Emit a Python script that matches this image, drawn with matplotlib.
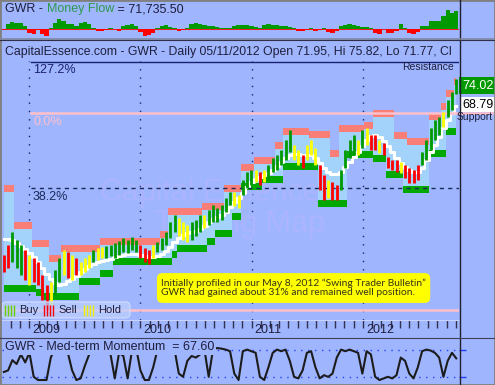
import numpy as np
import pandas as pd
import matplotlib
matplotlib.use("Agg")
import matplotlib.pyplot as plt
from matplotlib.patches import FancyBboxPatch, Rectangle
from matplotlib.lines import Line2D
from matplotlib.collections import LineCollection

plt.rcParams['font.family'] = ['Liberation Sans', 'DejaVu Sans']

# ---- data (bi-weekly samples) ----
dates = pd.date_range('2008-10-10', periods=107, freq='2W-FRI')

price_hi = [29.8, 32.4, 35.8, 33.7, 32.4, 31.1, 29.8, 29.0, 28.0, 24.6,
            22.0, 22.8, 25.9, 29.0, 31.1, 30.6, 29.8, 29.0, 28.0, 29.0,
            29.8, 31.1, 31.7, 31.9, 32.2, 32.4, 33.0, 33.5, 34.3, 33.7,
            34.5, 33.7, 32.4, 31.7, 31.1, 32.4, 33.2, 34.3, 35.8, 38.5,
            40.3, 39.5, 38.5, 37.7, 38.5, 39.0, 40.3, 40.3, 41.6, 42.9,
            42.1, 42.9, 44.7, 46.3, 46.3, 45.5, 49.4, 51.5, 52.1, 52.1,
            51.5, 52.1, 53.4, 55.2, 56.0, 57.3, 59.9, 62.5, 58.6, 57.3,
            56.0, 58.6, 59.9, 57.8, 53.4, 50.7, 49.4, 48.9, 48.1, 52.1,
            57.3, 59.9, 61.2, 59.9, 62.5, 63.0, 61.2, 61.2, 59.9, 59.1,
            55.4, 54.7, 54.7, 54.1, 53.4, 52.6, 52.1, 53.4, 56.8, 59.9,
            63.0, 65.1, 65.9, 67.2, 70.4, 72.4, 75.8]
price_lo = [25.4, 26.4, 28.0, 26.4, 24.6, 23.3, 22.0, 22.8, 22.0, 18.1,
            15.4, 16.7, 19.4, 22.8, 24.6, 23.8, 23.3, 24.6, 24.6, 25.4,
            26.4, 28.0, 28.5, 29.0, 29.0, 29.6, 29.0, 29.8, 30.6, 30.3,
            31.1, 30.6, 29.0, 28.0, 27.5, 29.0, 30.6, 31.1, 32.4, 34.3,
            35.8, 34.8, 33.7, 33.2, 33.7, 34.8, 35.8, 36.9, 37.7, 38.5,
            38.5, 39.0, 41.1, 42.9, 42.6, 42.1, 45.5, 47.3, 48.1, 48.9,
            48.1, 48.9, 49.4, 51.5, 52.1, 53.4, 54.7, 56.8, 54.7, 53.4,
            52.6, 54.7, 56.0, 53.4, 46.8, 44.2, 44.7, 44.2, 44.2, 46.8,
            52.6, 55.2, 56.0, 56.0, 57.8, 58.6, 57.3, 57.3, 56.5, 56.0,
            52.6, 52.1, 51.5, 51.3, 50.0, 48.6, 48.6, 49.4, 53.4, 54.7,
            57.3, 59.9, 61.2, 63.3, 65.9, 67.7, 71.8]
signal = list("RRGGGRYRRR" "RYGGYRYRYY" "YGYYGGGGGG" "GGRRRYGGGG"
              "GYYYGGGYGG" "GGGGYYGGGY" "RYGGGGGGYY" "RYYYRRYRRG"
              "GGGYGYRRYR" "RRRYRRRRGG" "GGGYGGG")
resistance = [48.1, 48.1, 48.1, 38.5, 38.5, 38.5, 38.5, 33.7, 33.7, 33.7,
              33.7, 29.8, 29.8, 29.8, 32.4, 32.4, 32.4, 32.4, 32.4, 32.4,
              32.4, 32.4, 32.4, 34.3, 34.3, 34.3, 34.3, 34.3, 34.3, 34.3,
              34.3, 34.3, 34.3, 34.3, 34.3, 34.3, 34.3, 36.0, 36.0, 42.1,
              42.1, 42.1, 42.1, 42.1, 42.1, 42.1, 42.1, 43.4, 43.4, 43.4,
              43.4, 43.4, 48.1, 48.1, 48.1, 48.1, 53.6, 53.6, 53.6, 55.4,
              55.4, 55.4, 55.4, 55.4, 59.4, 59.4, 63.0, 63.0, 63.0, 63.0,
              63.0, 63.0, 62.2, 62.2, 62.2, 62.2, 62.2, 57.3, 57.3, 63.8,
              63.8, 63.8, 63.8, 63.8, 63.8, 64.6, 64.6, 67.7, 67.7, 67.7,
              67.7, 67.7, 62.0, 62.0, 62.0, 60.4, 60.4, 60.4, 60.4, 60.4,
              67.0, 67.0, 67.0, 69.6, 73.0, 73.0, 76.0]
support = [20.1, 20.1, 20.1, 20.1, 20.1, 20.1, 20.1, 20.1, 19.1, 19.1,
           18.1, 18.1, 18.1, 18.1, 18.1, 18.1, 18.1, 18.1, 22.0, 22.0,
           22.0, 22.0, 22.0, 24.1, 24.1, 24.1, 27.2, 27.2, 27.2, 27.2,
           27.2, 27.2, 27.2, 27.2, 27.2, 27.2, 27.2, 27.2, 27.2, 27.2,
           29.0, 30.6, 30.6, 30.6, 30.6, 30.6, 30.6, 30.6, 32.4, 32.4,
           34.5, 34.5, 34.5, 34.5, 39.0, 39.0, 46.8, 46.8, 46.8, 46.8,
           46.8, 48.6, 48.6, 48.6, 48.6, 48.6, 52.1, 52.1, 52.1, 52.1,
           52.1, 52.1, 52.1, 52.1, 42.4, 42.4, 42.4, 42.4, 42.4, 42.4,
           42.4, 55.2, 55.2, 55.2, 55.2, 55.2, 55.2, 54.1, 54.1, 54.1,
           50.0, 50.0, 50.0, 50.0, 46.0, 46.0, 46.0, 46.0, 46.0, 46.0,
           55.4, 55.4, 55.4, 55.4, 61.2, 61.2, 61.2]
moving_avg = [34.0, 34.0, 33.7, 33.0, 32.2, 31.4, 30.3, 29.3, 28.0, 26.4,
              24.8, 23.5, 22.5, 22.0, 22.2, 23.0, 23.5, 24.3, 25.4, 26.2,
              26.9, 27.5, 28.0, 28.3, 28.5, 28.8, 29.3, 29.6, 29.8, 30.1,
              30.1, 30.1, 29.8, 29.6, 29.3, 29.3, 29.6, 30.1, 30.9, 31.9,
              33.2, 34.3, 35.0, 35.6, 35.8, 36.1, 36.6, 37.4, 38.5, 39.2,
              39.8, 40.3, 41.1, 42.4, 43.7, 44.7, 46.0, 47.6, 48.9, 49.7,
              50.2, 50.7, 51.3, 52.1, 53.1, 54.1, 55.2, 56.0, 56.2, 56.2,
              56.0, 56.0, 56.0, 55.2, 53.9, 52.6, 51.5, 51.0, 51.0, 51.5,
              52.8, 54.1, 55.4, 56.8, 58.3, 59.9, 60.9, 61.2, 60.7, 59.6,
              58.3, 56.8, 55.2, 53.9, 52.8, 52.1, 51.5, 51.5, 52.6, 54.7,
              56.8, 58.6, 60.7, 63.0, 65.1, 67.0, 68.8]
money_flow = [-4, 20, 28, 24, 24, 12, -16, -20, -4, -20,
              -28, 4, 24, 40, 32, 20, 20, 12, 24, 28,
              20, 4, -8, -8, -4, 4, 0, -8, 12, 16,
              20, 12, -12, -28, -24, -16, 4, 12, 16, 8,
              4, -8, -4, 4, 20, 24, 20, 16, 12, 12,
              8, 4, 4, 4, 12, 16, 16, 16, 12, 8,
              4, 16, 20, 16, 16, 12, 12, 8, 4, -8,
              -8, -4, 4, -8, -4, 4, -12, -16, -8, 12,
              16, 20, 16, 12, 8, 8, 4, -16, -20, 0,
              -16, -16, -8, 20, 4, -16, -20, -12, 12, 12,
              32, 32, 32, 52, 76, 64, 71.7]
momentum = [25, 30, 62, 50, 80, 55, 85, 10, 0, 0,
            0, 70, 100, 100, 100, 85, 30, 0, 5, 45,
            80, 95, 100, 100, 95, 80, 5, 85, 75, 5,
            90, 100, 30, 0, 0, 40, 95, 100, 100, 100,
            95, 20, 10, 60, 75, 70, 80, 95, 10, 95,
            100, 98, 95, 90, 20, 0, 90, 95, 90, 85,
            10, 0, 40, 85, 95, 90, 95, 60, 10, 5,
            30, 85, 90, 40, 5, 15, 10, 20, 70, 95,
            90, 95, 90, 85, 20, 90, 80, 10, 0, 5,
            10, 5, 15, 70, 60, 20, 5, 40, 90, 95,
            92, 85, 70, 10, 60, 85, 67.6]
mom_levels = [95, 10]
fib_labels = ['127.2%', '0.0%', '38.2%', '100.0%']
fib_prices = [80.4, 66.95, 47.3, 15.45]
years = [2009, 2010, 2011, 2012]
last_close, last_support = 74.02, 68.79

# ---- styling ----
BG = '#9fb5fe'
LIGHT = '#a3d2fa'
SALMON = '#fa7e78'
BAND_GREEN = '#00a800'
TXT = '#1e1e3c'
NAVY = '#1a2070'
PINK = '#ffc0cb'
sig_color = {'G': '#009a00', 'R': '#ff0000', 'Y': '#ffff00'}

W, H = 495, 385
fig = plt.figure(figsize=(W / 100, H / 100), dpi=100, facecolor=BG)


def px_axes(x0, y0, x1, y1):
    return fig.add_axes([x0 / W, 1 - y1 / H, (x1 - x0) / W, (y1 - y0) / H])


def fig_line(xs, ys, color, lw):
    fig.add_artist(Line2D([x / W for x in xs], [1 - y / H for y in ys],
                          transform=fig.transFigure, color=color, lw=lw))


xlim = (pd.Timestamp('2008-10-04'), pd.Timestamp('2012-11-11'))
step_days = 14

# ---- money flow panel ----
ax_mf = px_axes(2, 2, 459, 38)
ax_mf.set_xlim(xlim)
ax_mf.set_ylim(-36, 108)
mf_cols = ['#009a00' if v >= 0 else '#ff0000' for v in money_flow]
ax_mf.bar(dates, money_flow, width=step_days, color=mf_cols, linewidth=0)
ax_mf.axhline(0, color='#ff0000', lw=0.6)
ax_mf.axis('off')
t1 = ax_mf.text(0.007, 0.97, 'GWR - ', transform=ax_mf.transAxes,
                va='top', ha='left', fontsize=9, color=TXT)
t2 = ax_mf.annotate('Money Flow', xy=(1, 0), xycoords=t1, va='bottom',
                    ha='left', fontsize=9, color='#2e9a4e')
ax_mf.annotate(' = 71,735.50', xy=(1, 0), xycoords=t2, va='bottom',
               ha='left', fontsize=9, color=TXT)

# ---- header ----
ax_h = px_axes(2, 40, 459, 61)
ax_h.axis('off')
ax_h.text(0.007, 0.42,
          'CapitalEssence.com - GWR - Daily 05/11/2012 Open 71.95, Hi 75.82, Lo 71.77, Cl',
          transform=ax_h.transAxes, va='center', ha='left', fontsize=8.8, color=TXT)

# ---- main price panel ----
ax = px_axes(2, 61, 459, 320)
ax.set_facecolor(BG)
ax.set_xlim(xlim)
ax.set_ylim(12.82, 80.55)
for name, sp in ax.spines.items():
    sp.set_visible(name == 'bottom')
ax.spines['bottom'].set_color('#c8d4ff')
ax.set_yticks([])
ax.xaxis.set_major_locator(matplotlib.dates.MonthLocator())
ax.tick_params(axis='x', direction='out', length=6, width=1, color='#303050',
               labelbottom=False)

res = np.array(resistance)
sup = np.array(support)
band = 1.8
ax.fill_between(dates, sup + band, res - band, step='mid', color=LIGHT, lw=0, zorder=2)
ax.fill_between(dates, res - band, res, step='mid', color=SALMON, lw=0, zorder=2)
ax.fill_between(dates, sup, sup + band, step='mid', color=BAND_GREEN, lw=0, zorder=2)
ax.plot(dates, moving_avg, color='white', lw=2.2, drawstyle='steps-mid', zorder=4)
ax.vlines(dates, price_lo, price_hi, colors=[sig_color[s] for s in signal],
          lw=2.0, zorder=5)

# year grid + labels
for yr in years:
    d = pd.Timestamp(f'{yr}-01-01')
    ax.axvline(d, color=NAVY, lw=1, ls=(0, (1, 5)), zorder=1)
    ax.text(d + pd.Timedelta(days=10), -0.014, str(yr), transform=ax.get_xaxis_transform(),
            va='top', ha='left', fontsize=9, color=TXT, clip_on=False)

# watermark
ax.text(0.455, 0.49, 'Capital Essence', transform=ax.transAxes, ha='center', va='center',
        fontsize=22, color='#abb5ff', zorder=1.5)
ax.text(0.52, 0.37, 'Trading Map', transform=ax.transAxes, ha='center', va='center',
        fontsize=22, color='#abb5ff', zorder=1.5)

# fib levels
lx = 29 / 457
ax.axhline(fib_prices[0], xmin=lx, color=NAVY, lw=1, zorder=4.5)
ax.axhline(fib_prices[1], xmin=lx, xmax=490 / 457, color=PINK, lw=1.8, zorder=4.5,
           clip_on=False)
ax.axhline(fib_prices[2], xmin=lx, color='#1a2a5a', lw=1, ls=(0, (3, 3)), zorder=4.5)
ax.axhline(fib_prices[3], color=PINK, lw=1.8, zorder=4.5)
fib_colors = [NAVY, PINK, '#1a2a5a', PINK]
for lab, p, c in zip(fib_labels[:3], fib_prices[:3], fib_colors[:3]):
    ax.annotate(lab, xy=(31 / 457, p), xycoords=('axes fraction', 'data'),
                xytext=(0, -2), textcoords='offset points', va='top', ha='left',
                fontsize=9, color=c, zorder=6)

# right side labels
ytr = ax.get_yaxis_transform()
ax.text(1 - 5 / 457, 79.0, 'Resistance', transform=ytr, ha='right', va='center',
        fontsize=7.5, color=TXT, zorder=6)
ax.text(1 + 3 / 457, last_close, f'{last_close:.2f}', transform=ytr, ha='left',
        va='center', fontsize=9, color='white', clip_on=False, zorder=6,
        bbox=dict(boxstyle='square,pad=0.2', fc='#009a00', ec='none'))
ax.text(1 + 3 / 457, last_support + 0.3, f'{last_support:.2f}', transform=ytr, ha='left',
        va='center', fontsize=9, color='black', clip_on=False, zorder=6,
        bbox=dict(boxstyle='square,pad=0.12', fc='white', ec='none'))
ax.text(1 - 2 / 457, 65.9, 'Support', transform=ytr, ha='left', va='center',
        fontsize=7.5, color=TXT, clip_on=False, zorder=7)

# annotation box
ax.add_patch(FancyBboxPatch((0.339, 0.066), 0.598, 0.115, transform=ax.transAxes,
                            boxstyle='round,pad=0,rounding_size=0.012',
                            mutation_aspect=1.76, fc='#ffff00', ec='none', zorder=7))
note = ax.text(0.347, 0.124,
               'Initially profiled in our May 8, 2012 \u201cSwing Trader Bulletin\u201d\n'
               'GWR had gained about 31% and remained well position.',
               transform=ax.transAxes, ha='left', va='center', fontsize=8.3,
               family=['Lato', 'DejaVu Sans'], color='#34341a', linespacing=1.05, zorder=8)
# fit the note inside the yellow box width (~266 px)
fig.canvas.draw()
note_w = note.get_window_extent(fig.canvas.get_renderer()).width
note.set_fontsize(8.3 * 266 / note_w)

# legend
ax.add_patch(FancyBboxPatch((0.0, 0.008), 0.28, 0.062, transform=ax.transAxes,
                            boxstyle='round,pad=0,rounding_size=0.01',
                            mutation_aspect=1.76, fc='#bccfff', ec='#d4e0ff',
                            alpha=0.75, lw=1, zorder=7))
for x0, col, lab in [(3, '#6ad000', 'Buy'), (42, '#ff0000', 'Sell'), (82, '#f0f000', 'Hold')]:
    segs = [[((x0 + 3 * k) / 457, 0.016), ((x0 + 3 * k) / 457, 0.058)] for k in range(4)]
    ax.add_collection(LineCollection(segs, colors=col, lw=1, transform=ax.transAxes,
                                     zorder=8), autolim=False)
    ax.text((x0 + 14) / 457, 0.037, lab, transform=ax.transAxes, ha='left',
            va='center', fontsize=8, color=TXT, zorder=8)

# ---- momentum panel ----
ax_m = px_axes(2, 338, 459, 385)
ax_m.set_facecolor(BG)
ax_m.set_xlim(xlim)
ax_m.set_ylim(-15.6, 131.25)
for sp in ax_m.spines.values():
    sp.set_visible(False)
ax_m.plot(dates, momentum, color='#1c1c1c', lw=1.5, zorder=3)
for lv in mom_levels:
    ax_m.axhline(lv, color='#2040ff', lw=1, ls=(0, (1, 4)), zorder=2)
ax_m.set_xticks([])
ax_m.yaxis.tick_right()
ax_m.set_yticks(mom_levels)
ax_m.tick_params(axis='y', colors='#2040ff', length=5, width=1, labelright=False)
ax_m.text(0.007, 0.93, 'GWR - Med-term Momentum  = 67.60', transform=ax_m.transAxes,
          va='top', ha='left', fontsize=9, color=TXT, zorder=5,
          bbox=dict(boxstyle='square,pad=0.1', fc=BG, ec='none'))

# ---- separators / frame ----
fig_line([459.5, 459.5], [0, 385], '#202030', 1)
fig_line([0, 495], [38.5, 38.5], '#8088a0', 1.2)
fig_line([0, 495], [40.3, 40.3], '#303048', 0.8)
fig_line([0, 495], [337.5, 337.5], '#404058', 0.8)
fig.add_artist(Rectangle((0, 0), 1, 1, transform=fig.transFigure, fill=False,
                         ec='#808080', lw=2))

fig.savefig('out.png', dpi=100, facecolor=BG)
